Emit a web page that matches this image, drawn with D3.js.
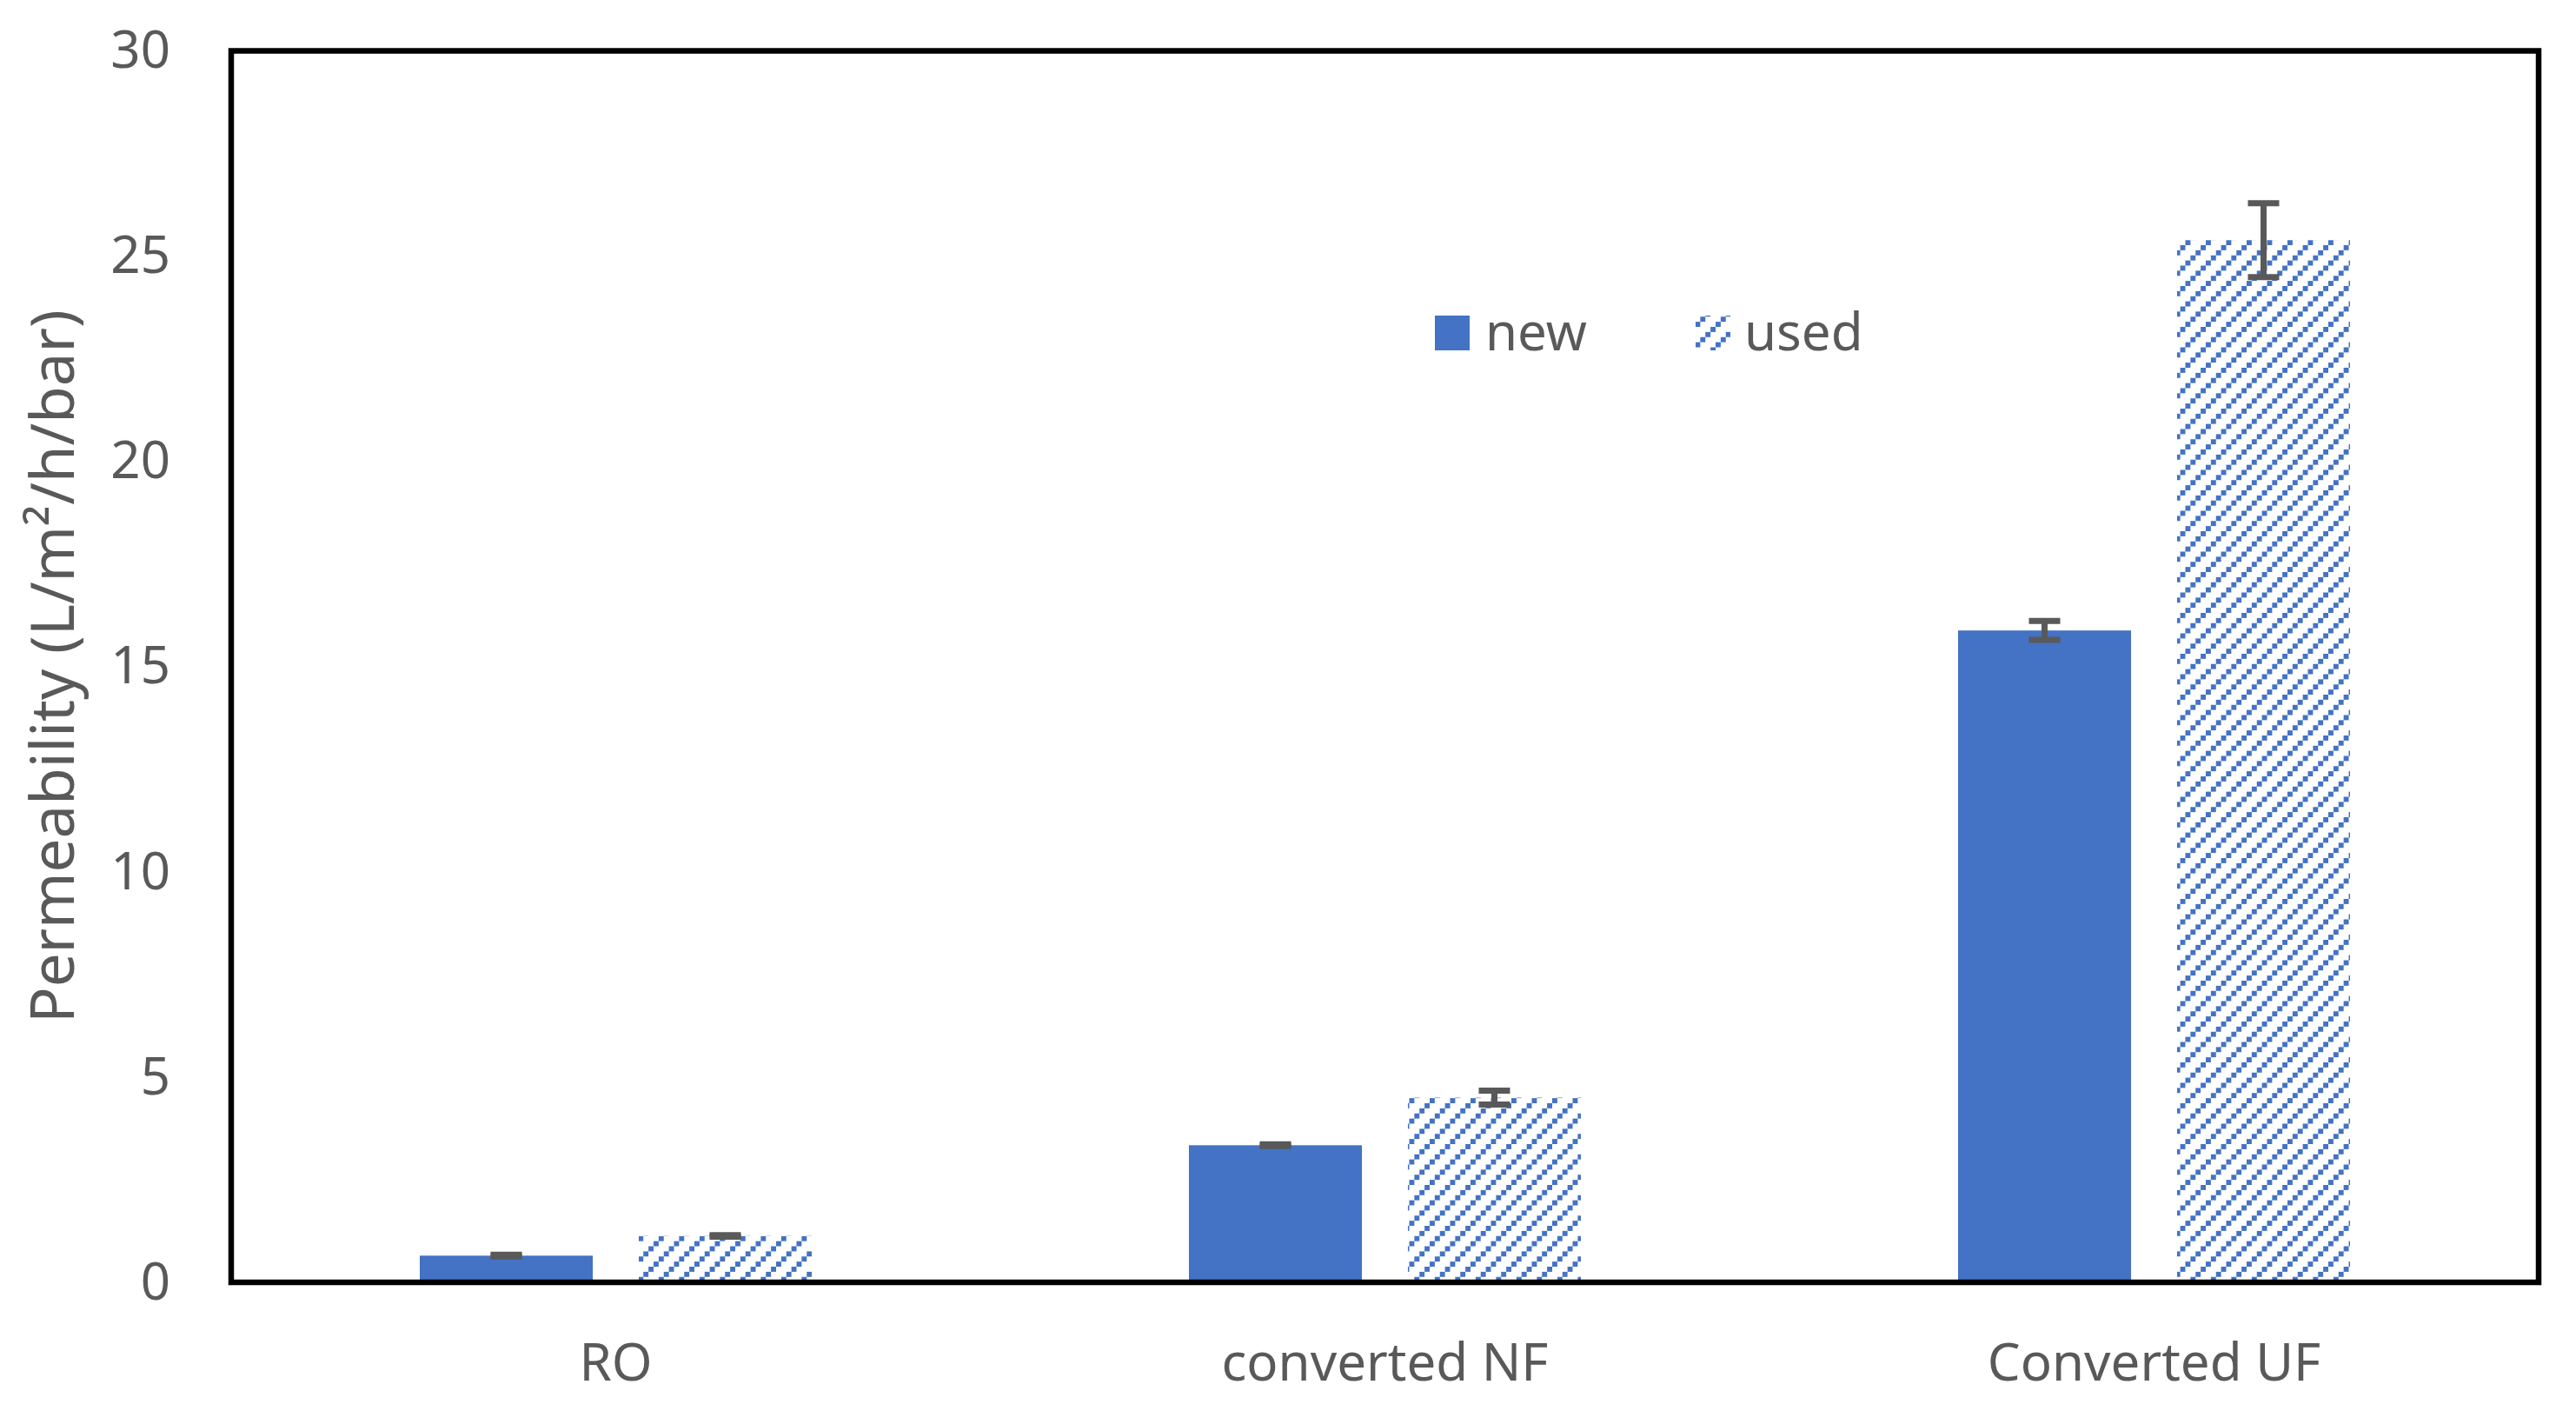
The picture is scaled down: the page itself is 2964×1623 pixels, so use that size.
<!DOCTYPE html>
<html>
<head>
<meta charset="utf-8">
<script src="https://cdn.jsdelivr.net/npm/d3@7"></script>
<style>
  html, body { margin: 0; padding: 0; background: #fff; }
  svg { display: block; }
  text { font-family: "Noto Sans", "Open Sans", sans-serif; fill: #595959; }
</style>
</head>
<body>
<svg id="chart" width="2964" height="1623"></svg>
<script>
// ---- data ----
const categories = ["RO", "converted NF", "Converted UF"];
const seriesNames = ["new", "used"];
const newValues = [0.65, 3.34, 15.88];
const newErrors = [0.02, 0.02, 0.23];
const usedValues = [1.13, 4.50, 25.39];
const usedErrors = [0.02, 0.17, 0.90];
const yTicks = [0, 5, 10, 15, 20, 25, 30];

// ---- layout ----
const W = 2964, H = 1623;
const margin = { left: 266, right: W - 2921, top: 58.5, bottom: H - 1475 };
const svg = d3.select("#chart");
const blue = "#4472C4";
const grey = "#595959";

const x0 = d3.scaleBand().domain(categories).range([margin.left, W - margin.right]).padding(0);
const groupFrac = 0.5096;
const x1 = d3.scaleBand().domain(seriesNames)
  .range([0, x0.bandwidth() * groupFrac]).paddingInner(0.21).paddingOuter(0);
const groupOffset = (x0.bandwidth() - x0.bandwidth() * groupFrac) / 2;
const y = d3.scaleLinear().domain([0, 30]).range([H - margin.bottom, margin.top]);

// hatch pattern
const defs = svg.append("defs");
const tile = 23.5, sq = tile / 4;
const pat = defs.append("pattern").attr("id", "hatch")
  .attr("patternUnits", "userSpaceOnUse").attr("width", tile).attr("height", tile);
pat.append("rect").attr("width", tile).attr("height", tile).attr("fill", "#fff");
[0, 1, 2, 3].forEach(i => {
  pat.append("rect").attr("x", i * sq).attr("y", (3 - i) * sq)
    .attr("width", sq).attr("height", sq).attr("fill", blue);
});

const data = [];
categories.forEach((c, i) => {
  data.push({ cat: c, s: "new", v: newValues[i], e: newErrors[i] });
  data.push({ cat: c, s: "used", v: usedValues[i], e: usedErrors[i] });
});

const fillFor = s => s === "new" ? blue : "url(#hatch)";
const bx = d => x0(d.cat) + groupOffset + x1(d.s);

// bars
svg.append("g").selectAll("rect").data(data).join("rect")
  .attr("x", bx)
  .attr("y", d => y(d.v))
  .attr("width", x1.bandwidth())
  .attr("height", d => y(0) - y(d.v))
  .attr("fill", d => fillFor(d.s));

// error bars
const capW = 36, eStroke = 7;
const eg = svg.append("g").attr("stroke", grey).attr("stroke-width", eStroke);
data.forEach(d => {
  const cx = bx(d) + x1.bandwidth() / 2;
  eg.append("line").attr("x1", cx).attr("x2", cx).attr("y1", y(d.v + d.e)).attr("y2", y(d.v - d.e));
  eg.append("line").attr("x1", cx - capW / 2).attr("x2", cx + capW / 2).attr("y1", y(d.v + d.e)).attr("y2", y(d.v + d.e));
  eg.append("line").attr("x1", cx - capW / 2).attr("x2", cx + capW / 2).attr("y1", y(d.v - d.e)).attr("y2", y(d.v - d.e));
});

// frame
svg.append("rect")
  .attr("x", margin.left).attr("y", margin.top)
  .attr("width", W - margin.right - margin.left)
  .attr("height", H - margin.bottom - margin.top)
  .attr("fill", "none").attr("stroke", "#000").attr("stroke-width", 6.5);

// y axis
const yAxis = d3.axisLeft(y).tickValues(yTicks).tickSize(0).tickPadding(70).tickFormat(d3.format("d"));
const gy = svg.append("g").attr("transform", `translate(${margin.left},0)`).call(yAxis);
gy.select(".domain").remove();
gy.selectAll("text").style("font-size", "60px").attr("fill", grey)
  .attr("font-family", "Noto Sans");

// x axis
const xAxis = d3.axisBottom(x0).tickSize(0).tickPadding(70);
const gx = svg.append("g").attr("transform", `translate(0,${H - margin.bottom})`).call(xAxis);
gx.select(".domain").remove();
gx.selectAll("text").style("font-size", "60px").attr("fill", grey)
  .attr("font-family", "Noto Sans");

// y title
svg.append("text")
  .attr("transform", `translate(85, ${(margin.top + H - margin.bottom) / 2}) rotate(-90)`)
  .attr("text-anchor", "middle")
  .style("font-size", "69px")
  .text("Permeability (L/m²/h/bar)");

// legend
const legend = svg.append("g");
const legItems = [
  { s: "new", x: 1651, tx: 1709 },
  { s: "used", x: 1951, tx: 2007 }
];
legItems.forEach(it => {
  legend.append("rect").attr("x", it.x).attr("y", 363).attr("width", 40).attr("height", 40)
    .attr("fill", fillFor(it.s));
  legend.append("text").attr("x", it.tx).attr("y", 403).style("font-size", "60px").text(it.s);
});
</script>
</body>
</html>
